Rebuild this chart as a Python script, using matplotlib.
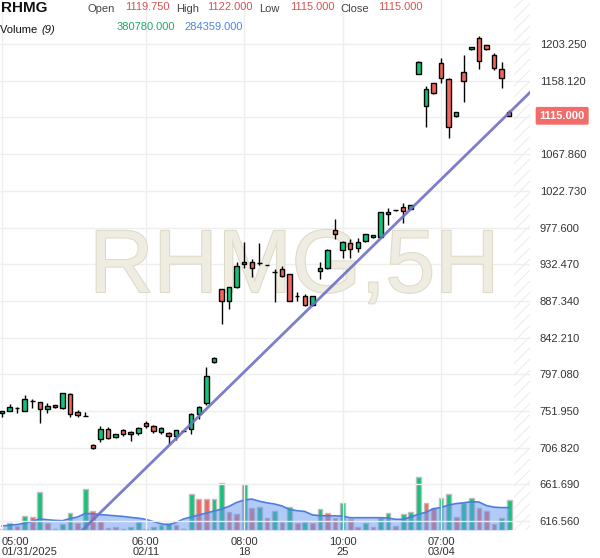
import matplotlib
matplotlib.use('Agg')
import matplotlib.pyplot as plt
import matplotlib.patheffects as pe
import matplotlib.transforms as mtransforms

plt.rcParams['font.family'] = ['Liberation Sans', 'DejaVu Sans']
plt.rcParams['hatch.linewidth'] = 0.8

# candles (RHMG, 5H)
opens = [749.0, 752.3, 755.7, 752.3, 764.6, 762.6, 754.0, 759.0, 756.0, 773.0,
         750.3, 746.0, 709.8, 717.2, 729.8, 719.6, 728.2, 723.7, 724.5, 737.2,
         733.1, 725.8, 725.3, 721.6, 727.6, 729.4, 747.9, 761.4, 811.8, 901.6,
         887.6, 904.0, 932.3, 934.8, 933.6, 931.7, 922.3, 926.6, 920.0, 893.7,
         893.0, 881.9, 924.1, 928.2, 974.5, 950.0, 958.2, 952.0, 961.0, 965.5,
         965.5, 996.7, 998.8, 1002.4, 1000.0, 1166.3, 1126.5, 1155.0, 1179.8, 1159.8,
         1114.4, 1168.7, 1196.7, 1210.5, 1202.1, 1189.7, 1172.1, 1119.75]
highs = [752.5, 760.2, 757.0, 771.3, 766.3, 763.2, 761.4, 759.5, 774.5, 774.0,
         753.2, 750.3, 711.4, 733.5, 732.6, 724.0, 729.4, 727.0, 732.6, 739.6,
         734.7, 731.9, 726.0, 729.0, 728.2, 749.0, 757.5, 806.4, 818.0, 902.0,
         905.0, 935.5, 959.4, 938.5, 958.2, 932.0, 926.2, 930.3, 920.5, 898.3,
         895.5, 893.0, 935.5, 951.0, 987.7, 961.0, 963.1, 964.3, 970.0, 968.4,
         996.3, 1001.2, 999.5, 1008.1, 1005.0, 1182.6, 1151.5, 1155.5, 1186.0, 1161.3,
         1119.5, 1189.7, 1199.5, 1213.0, 1202.5, 1192.5, 1181.6, 1122.0]
lows = [744.6, 752.0, 749.9, 752.0, 755.3, 736.8, 749.9, 756.0, 755.0, 744.2,
        745.0, 745.5, 705.5, 713.5, 718.0, 719.0, 721.2, 715.4, 723.0, 730.7,
        725.3, 724.0, 711.4, 716.3, 727.0, 723.7, 741.7, 759.0, 811.0, 858.6,
        877.0, 903.0, 927.4, 916.4, 931.5, 931.4, 886.4, 917.0, 887.0, 887.6,
        881.0, 881.0, 913.9, 926.6, 963.1, 939.7, 939.7, 947.9, 960.0, 965.0,
        965.0, 980.7, 998.0, 982.8, 1000.0, 1166.0, 1100.7, 1142.0, 1155.0, 1087.2,
        1114.0, 1132.2, 1196.5, 1173.0, 1196.5, 1171.0, 1148.8, 1115.0]
closes = [752.0, 756.5, 755.7, 766.3, 764.6, 754.0, 757.7, 756.5, 773.7, 748.0,
          746.6, 746.0, 706.1, 729.4, 719.1, 723.3, 723.7, 726.5, 730.7, 733.5,
          727.7, 730.7, 721.6, 728.2, 727.6, 747.9, 756.5, 795.0, 817.1, 887.6,
          904.0, 930.3, 935.2, 927.8, 933.6, 931.7, 922.3, 917.6, 887.6, 893.7,
          881.9, 893.0, 927.4, 950.0, 969.2, 960.1, 950.8, 959.8, 969.6, 968.4,
          996.3, 993.8, 998.8, 998.3, 1004.9, 1181.4, 1147.4, 1142.7, 1161.3, 1101.5,
          1119.3, 1158.4, 1199.2, 1182.2, 1196.7, 1173.3, 1161.1, 1115.0]

volumes = [9000, 85000, 51000, 182000, 161000, 486000, 85000, 8000, 72000, 212000,
           85000, 520000, 245000, 118000, 20000, 34000, 12000, 42000, 98000, 9000,
           34000, 63000, 95000, 63000, 9000, 453000, 390000, 390000, 393000, 600000,
           232000, 199000, 584000, 283000, 296000, 148000, 245000, 98000, 288000, 85000,
           105000, 85000, 267000, 220000, 148000, 339000, 140000, 42000, 85000, 42000,
           148000, 220000, 55000, 199000, 232000, 669000, 347000, 283000, 402000, 453000,
           169000, 347000, 410000, 283000, 245000, 76000, 156000, 380780]
vol_up = [0, 1, 0, 1, 0, 1, 0, 0, 1, 1, 0, 1, 0, 0, 0, 0, 0, 1, 1, 0,
          1, 1, 1, 0, 0, 1, 0, 0, 1, 1, 0, 0, 1, 0, 1, 0, 1, 0, 1, 0,
          1, 0, 1, 0, 0, 1, 0, 0, 1, 0, 1, 1, 0, 1, 1, 1, 0, 0, 1, 1,
          0, 1, 1, 0, 0, 0, 1, 1]
vol_ma = [51000, 60000, 70000, 85000, 110000, 140000, 130000, 122000, 118000, 145000,
          165000, 210000, 205000, 195000, 188000, 180000, 172000, 160000, 150000, 135000,
          106000, 80000, 65000, 95000, 140000, 165000, 190000, 215000, 240000, 265000,
          300000, 350000, 380000, 393000, 365000, 345000, 330000, 305000, 260000, 245000,
          235000, 192000, 182000, 180000, 180000, 175000, 156000, 156000, 156000, 156000,
          156000, 152000, 135000, 135000, 165000, 200000, 224000, 270000, 285000, 317000,
          335000, 345000, 360000, 355000, 310000, 290000, 284000, 284359]

price_ticks = [616.56, 661.69, 706.82, 751.95, 797.08, 842.21, 887.34, 932.47,
               977.60, 1022.73, 1067.86, 1112.99, 1158.12, 1203.25]
time_tick_idx = [0, 19, 32, 45, 58]
time_tick_labels = ['05:00\n01/31/2025', '06:00\n02/11', '08:00\n18', '10:00\n25', '07:00\n03/04']

# user trend line, two anchor points (candle index, price)
trend_idx = [22, 41]
trend_price = [709.0, 882.0]

GREEN = '#12c47a'
RED = '#f4655f'

fig = plt.figure(figsize=(6, 5.58), dpi=100)
rect = [0, 28 / 558, 530 / 600, 530 / 558]

vol_ax = fig.add_axes(rect)
ax = fig.add_axes(rect, sharex=vol_ax)
ax.patch.set_visible(False)

n = len(closes)
xs = list(range(n))

# volume panel
vcols = [GREEN if u else RED for u in vol_up]
vol_ax.bar(xs, volumes, width=0.62, color=vcols, edgecolor='#bdbdbd', linewidth=1.0, zorder=2)
vol_ax.fill_between(xs, vol_ma, 0, color='#6496f0', alpha=0.5, lw=0, zorder=3)
vol_ax.plot(xs, vol_ma, color='#4a7de0', lw=1.2, zorder=4)
vol_ax.set_ylim(0, 530 * 12693)
vol_ax.axis('off')

# candles
ax.vlines(xs, lows, highs, color='black', lw=1.0, zorder=3)
bottoms = [min(o, c) for o, c in zip(opens, closes)]
heights = [abs(c - o) for o, c in zip(opens, closes)]
bcols = [GREEN if c > o else (RED if c < o else 'black') for o, c in zip(opens, closes)]
ax.bar(xs, heights, bottom=bottoms, width=0.6, color=bcols, edgecolor='black',
       linewidth=1.0, zorder=4)

ax.axline((trend_idx[0], trend_price[0]), (trend_idx[1], trend_price[1]),
          color='#6f6fc6', lw=2.0, alpha=0.9, zorder=5)

ax.set_xlim(-0.26, 69.75)
ax.set_ylim(605.6, 1257.4)
ax.axvspan(67.6, 69.75, facecolor='none', edgecolor='#ededed', hatch='///', lw=0, zorder=1)

wm = ax.text(0.555, 1 - 292 / 530, 'RHMG,5H', transform=ax.transAxes, ha='center', va='baseline',
             fontsize=64, color='#efece1', zorder=0.6)
wm.set_path_effects([pe.Stroke(linewidth=1.5, foreground='#dedac8'), pe.Normal()])

ax.set_axisbelow(True)
ax.grid(True, color='#eeeeee', lw=1.0)
for s in ax.spines.values():
    s.set_visible(False)

ax.yaxis.tick_right()
ax.set_yticks(price_ticks)
ax.set_yticklabels(['%.3f' % p if abs(p - 1112.99) > 0.1 else '' for p in price_ticks])
ax.set_xticks(time_tick_idx)
ax.set_xticklabels(time_tick_labels)
ax.tick_params(axis='both', length=0, labelsize=8, labelcolor='#333333')
ax.tick_params(axis='y', pad=7)
ax.tick_params(axis='x', pad=5)
ax.get_xticklabels()[0].set_horizontalalignment('left')
for lbl in ax.get_xticklabels():
    lbl.set_linespacing(0.95)

# last price marker
tr = mtransforms.blended_transform_factory(ax.transAxes, ax.transData)
ax.text(1.018, closes[-1], '%.3f' % closes[-1], transform=tr, ha='left', va='center',
        fontsize=8, fontweight='bold', color='white', clip_on=False,
        bbox=dict(boxstyle='round,pad=0.35,rounding_size=0.15', fc='#f26d6a', ec='none'))

# header
def fx(x):
    return x / 600

def fy(y):
    return 1 - y / 558

fig.text(fx(1), fy(8), 'RHMG', fontsize=11, fontweight='bold', color='#111111', va='center')
hdr = [(88, 'Open', '#444444', 9.5), (125, '%.3f' % opens[-1], '#d9534f', 7),
       (176, 'High', '#444444', 9.5), (207, '%.3f' % highs[-1], '#d9534f', 7),
       (259, 'Low', '#444444', 9.5), (290, '%.3f' % lows[-1], '#d9534f', 7),
       (340, 'Close', '#444444', 9.5), (378, '%.3f' % closes[-1], '#d9534f', 7)]
for x, s, c, y in hdr:
    fig.text(fx(x), fy(y), s, fontsize=8, color=c, va='center')
fig.text(fx(0), fy(30), 'Volume ', fontsize=8, color='#111111', va='center')
fig.text(fx(41), fy(30), '(9)', fontsize=8, color='#111111', va='center', style='italic')
fig.text(fx(117), fy(27), '%.3f' % volumes[-1], fontsize=8, color='#22aa66', va='center')
fig.text(fx(184), fy(27), '%.3f' % 284359, fontsize=8, color='#4a86e8', va='center')

fig.savefig('out.png', dpi=100, facecolor='white')
